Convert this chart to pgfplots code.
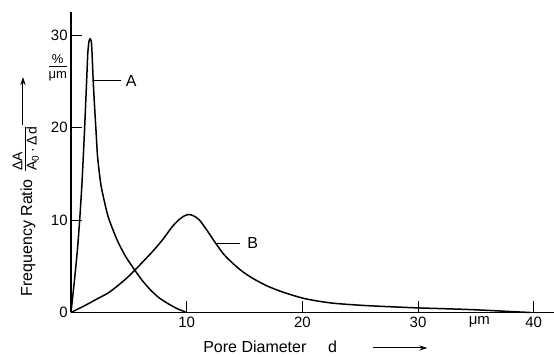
\documentclass[border=0pt]{standalone}
\usepackage{amsmath}
\usepackage{pgfplots}
\pgfplotsset{compat=1.18}
\usepackage{fontspec}
\setmainfont{Liberation Sans}
\usetikzlibrary{arrows.meta}
\newsavebox\denbox
\newsavebox\munbox
\AtBeginDocument{%
\sbox\denbox{\fontsize{7}{8}\selectfont A\textsubscript{0}\hspace{1.2pt}·\hspace{1.2pt}Δ\hspace{0.6pt}d}%
\sbox\munbox{\fontsize{6.5}{7}\selectfont μm}}
\begin{document}
\begin{tikzpicture}
\useasboundingbox (-35.5pt,-22.25pt) rectangle (241.5pt,156.25pt);
\begin{axis}[
  at={(0,0)}, anchor=south west,
  scale only axis, width=241.5pt, height=150.25pt,
  xmin=0, xmax=41.75, ymin=0, ymax=32.5,
  axis x line=bottom, axis y line=left,
  axis line style={-, line width=0.6pt},
  tick align=inside, major tick length=5.5pt,
  tick style={line width=0.5pt, black},
  xtick={10,20,30,40}, ytick={0,10,20,30},
  /pgf/number format/assume math mode=true,
  xticklabel style={font=\fontsize{7.5}{8}\selectfont, inner sep=0pt, yshift=-2pt},
  yticklabel style={font=\fontsize{7.5}{8}\selectfont, inner sep=0pt, xshift=-1.5pt},
  clip=false,
]
\addplot[black, line width=0.75pt, smooth, tension=0.35] coordinates {
(0,0) (0.3,3.5) (0.55,6.7) (0.75,10) (0.95,14) (1.17,19.7) (1.35,25) (1.45,28) (1.55,29.3)
(1.65,29.6) (1.76,29.3) (1.84,27.5) (1.92,25) (2.05,22) (2.17,19.5) (2.3,16.8) (2.6,13.7)
(3.2,10.4) (4.0,7.8) (4.7,6.1) (5.5,4.6) (6.2,3.4) (6.9,2.4) (7.6,1.6) (8.4,0.95) (9.2,0.4) (10,0)
};
\addplot[black, line width=0.75pt, smooth, tension=0.45] coordinates {
(0,0) (1.2,0.75) (2.3,1.5) (3.2,2.1) (4.0,2.85) (4.8,3.7) (5.5,4.55) (6.3,5.6) (7.2,6.8)
(8.0,8.0) (8.7,9.2) (9.3,10.0) (9.8,10.45) (10.2,10.6) (10.6,10.45) (11.1,10.0) (11.8,8.8)
(12.5,7.5) (13.2,6.3) (14.0,5.3) (14.8,4.45) (15.7,3.7) (16.9,2.9) (18.1,2.3) (19.2,1.85)
(20.2,1.5) (21.5,1.2) (22.7,1.0) (24,0.87) (25.6,0.74) (27.8,0.61) (29.9,0.5) (32,0.42)
(34.2,0.33) (36,0.23) (37.1,0.16) (38.5,0.07) (39.7,0)
};
% leader lines
\addplot[black, line width=0.5pt] coordinates {(1.99,25.05) (4.3,25.05)};
\addplot[black, line width=0.5pt] coordinates {(12.6,7.48) (14.6,7.48)};
\node[font=\fontsize{8}{9}\selectfont] at (axis cs:5.2,25.05) {A};
\node[font=\fontsize{8}{9}\selectfont] at (axis cs:15.7,7.48) {B};
% unit
\node[anchor=north, inner sep=0pt, yshift=-2pt, font=\fontsize{7.5}{8}\selectfont] at (axis cs:35.3,0) {μm};
\node at (axis cs:-1.15,26.5) {$\genfrac{}{}{0.5pt}{1}{\mbox{\fontsize{6.5}{7}\selectfont \%}}{\usebox\munbox}$};
% x label
\node[anchor=base west, inner sep=0pt, font=\fontsize{8}{9}\selectfont] at (axis cs:11.4,-4.38) {Pore Diameter};
\node[anchor=base west, inner sep=0pt, font=\fontsize{8}{9}\selectfont] at (axis cs:22.2,-4.38) {d};
\draw[line width=0.5pt, -{Stealth[length=4pt,width=2.6pt]}] (axis cs:26.1,-3.84) -- (axis cs:30.8,-3.84);
% y label
\node[rotate=90, anchor=base west, inner sep=0pt, font=\fontsize{8}{9}\selectfont] at (axis cs:-3.37,1.68)
  {Frequency Ratio\hspace{3pt}\raisebox{1.5pt}{$\genfrac{}{}{0.5pt}{1}{\makebox[\wd\denbox][l]{\fontsize{7}{8}\selectfont ΔA}}{\usebox\denbox}$}};
\draw[line width=0.5pt, -{Stealth[length=4pt,width=2.6pt]}] (axis cs:-4.15,20.27) -- (axis cs:-4.15,25.46);
\end{axis}
\end{tikzpicture}
\end{document}
